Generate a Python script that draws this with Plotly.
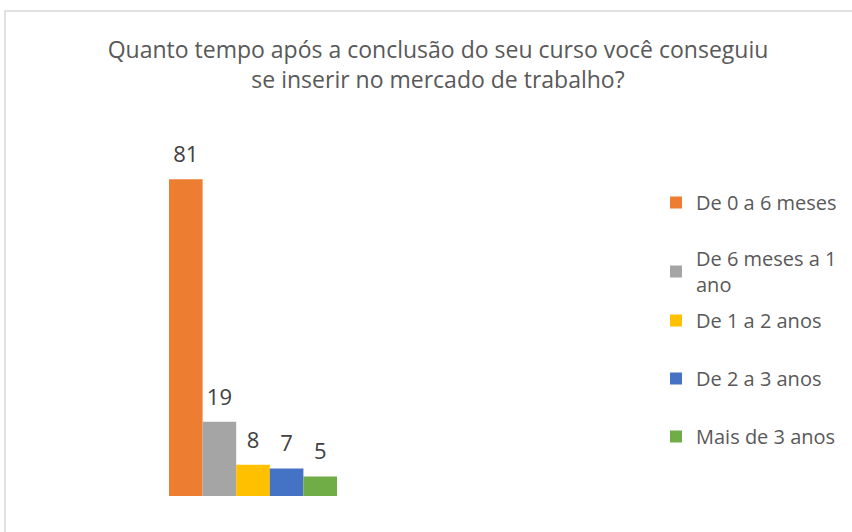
import plotly.graph_objects as go

categories = ["De 0 a 6 meses", "De 6 meses a 1<br>ano", "De 1 a 2 anos", "De 2 a 3 anos", "Mais de 3 anos"]
values = [81, 19, 8, 7, 5]
colors = ["#ED7D31", "#A5A5A5", "#FFC000", "#4472C4", "#70AD47"]
title_text = "Quanto tempo após a conclusão do seu curso você conseguiu<br>se inserir no mercado de trabalho?"

W, H = 852, 532
FONT = "Open Sans"
legend_tops = [183, 239, 301, 359, 417]  # screen px


def sx(x):
    return x / W


def sy(y):
    return 1 - y / H


fig = go.Figure()
for i, (name, val, col) in enumerate(zip(categories, values, colors)):
    lg = "legend" if i == 0 else f"legend{i+1}"
    fig.add_trace(go.Bar(x=[i], y=[val], width=1, name=name, marker=dict(color=col, line=dict(width=0)),
                         legend=lg, hoverinfo="skip"))
fig.add_trace(go.Scatter(x=list(range(len(values))), y=values, mode="markers+text",
                         text=[str(v) for v in values], textposition="top center",
                         marker=dict(size=17, opacity=0), showlegend=False,
                         textfont=dict(family=FONT, size=22, color="#404040"),
                         cliponaxis=False, hoverinfo="skip"))

layout_legends = {}
for i, top in enumerate(legend_tops):
    key = "legend" if i == 0 else f"legend{i+1}"
    layout_legends[key] = dict(x=sx(656), xanchor="left", y=sy(top), yanchor="top",
                               font=dict(family=FONT, size=20, color="#595959"),
                               bgcolor="rgba(0,0,0,0)", itemwidth=30, tracegroupgap=0)

fig.update_layout(
    width=W, height=H,
    margin=dict(l=0, r=0, t=0, b=0, pad=0, autoexpand=False),
    paper_bgcolor="white", plot_bgcolor="white",
    barmode="overlay",
    title=dict(text=title_text, x=sx(438), xanchor="center", y=sy(58), yanchor="top",
               yref="container", xref="container",
               font=dict(family=FONT, size=23, color="#595959")),
    xaxis=dict(domain=[sx(169), sx(337)], range=[-0.5, 4.5], visible=False),
    yaxis=dict(domain=[sy(496), sy(144)], range=[0, 90], visible=False),
    shapes=[dict(type="rect", xref="paper", yref="paper", x0=sx(5), x1=1.2, y0=-0.2, y1=sy(11),
                 line=dict(color="#D9D9D9", width=1.5), fillcolor="rgba(0,0,0,0)", layer="below")],
    **layout_legends,
)

fig.write_html("out.html", config={"displayModeBar": False, "staticPlot": True},
               post_script="document.body.style.margin='0px';")
